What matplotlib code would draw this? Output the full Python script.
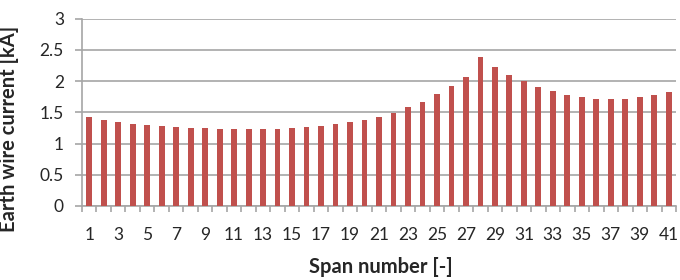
import matplotlib
matplotlib.use("Agg")
import matplotlib.pyplot as plt
import numpy as np

spans = list(range(1, 42))
current_kA = [1.42, 1.38, 1.34, 1.32, 1.295, 1.28, 1.26, 1.25, 1.245, 1.24,
              1.235, 1.235, 1.235, 1.24, 1.245, 1.26, 1.28, 1.305, 1.34, 1.375,
              1.43, 1.49, 1.58, 1.67, 1.785, 1.92, 2.07, 2.39, 2.23, 2.10,
              2.00, 1.91, 1.84, 1.78, 1.75, 1.72, 1.71, 1.715, 1.74, 1.77, 1.82]
y_ticks = [0, 0.5, 1, 1.5, 2, 2.5, 3]
y_tick_labels = ["0", "0.5", "1", "1.5", "2", "2.5", "3"]

plt.rcParams['font.family'] = ['Lato', 'DejaVu Sans']

fig = plt.figure(figsize=(6.8, 2.8), dpi=100)
W = 594
ax = fig.add_axes([82/680, 1-206/280, W/680, (206-18.5)/280])

x = np.arange(len(spans))
ax.bar(x, current_kA, width=0.4, color='#C0504D', zorder=3)

ax.set_xlim(-0.5, len(spans) - 0.5)
ax.set_ylim(0, 3)
ax.set_yticks(y_ticks)
ax.set_yticklabels(y_tick_labels, fontsize=12.5, color='#262626')
ax.yaxis.grid(True, color='#A6A6A6', linewidth=1.2, zorder=0)
ax.tick_params(axis='y', length=5, color='#A6A6A6', width=1.2, pad=8)

ax.set_xticks(x[::2])
ax.set_xticklabels([str(s) for s in spans[::2]], fontsize=12.5, color='#262626')
ax.set_xticks(np.arange(len(spans) + 1) - 0.5, minor=True)
ax.tick_params(axis='x', which='major', length=0, pad=15)
ax.tick_params(axis='x', which='minor', length=4.5, color='#A6A6A6', width=1.2)

for s in ['top', 'right']:
    ax.spines[s].set_visible(False)
for s in ['left', 'bottom']:
    ax.spines[s].set_color('#A6A6A6')
    ax.spines[s].set_linewidth(1.2)

ax.set_ylabel('Earth wire current [kA]', fontsize=14.5, fontweight='bold', color='#262626')
ax.yaxis.set_label_coords(-63/W, (206-129)/187.5)
ax.set_xlabel('Span number [-]', fontsize=14.5, fontweight='bold', color='#262626')
ax.xaxis.set_label_coords((381-82)/W, -(267-206)/187.5)
ax.xaxis.label.set_va('center')

fig.savefig('out.png', dpi=100)
